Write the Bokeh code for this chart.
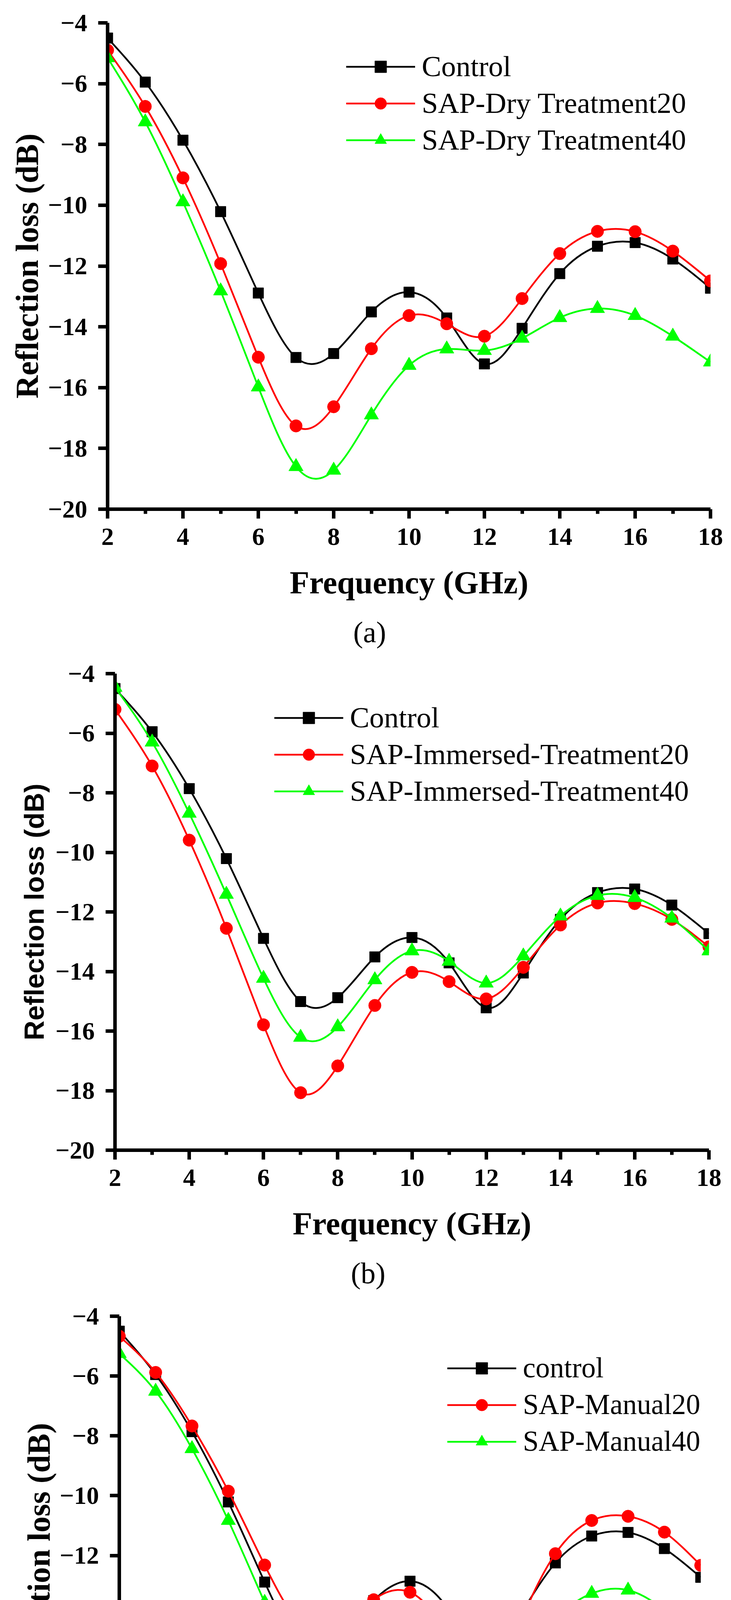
import numpy as np
from bokeh.plotting import figure
from bokeh.models import ColumnDataSource, Range1d, FixedTicker, Legend, LegendItem, Title
from bokeh.embed import file_html
from bokeh.resources import INLINE

# frequency (GHz) and reflection loss (dB)
freq = [2, 3, 4, 5, 6, 7, 8, 9, 10, 11, 12, 13, 14, 15, 16, 17, 18]
control = [-4.5, -5.95, -7.86, -10.21, -12.89, -15.01, -14.88, -13.51, -12.86,
           -13.71, -15.22, -14.05, -12.25, -11.35, -11.23, -11.77, -12.73]
dry20 = [-4.9, -6.75, -9.1, -11.92, -15.0, -17.26, -16.63, -14.72, -13.63,
         -13.9, -14.31, -13.07, -11.59, -10.86, -10.87, -11.51, -12.49]
dry40 = [-5.15, -7.26, -9.89, -12.82, -15.98, -18.6, -18.72, -16.9, -15.27,
         -14.73, -14.78, -14.38, -13.7, -13.4, -13.63, -14.31, -15.16]
imm20 = [-5.2, -7.1, -9.59, -12.55, -15.79, -18.07, -17.17, -15.14, -14.03,
         -14.34, -14.92, -13.86, -12.44, -11.7, -11.72, -12.25, -13.17]
imm40 = [-4.46, -6.3, -8.69, -11.41, -14.23, -16.21, -15.86, -14.28, -13.31,
         -13.66, -14.39, -13.48, -12.14, -11.45, -11.52, -12.21, -13.31]
man20 = [-4.67, -5.88, -7.67, -9.85, -12.32, -14.31, -14.49, -13.48, -13.23,
         -14.66, -16.52, -14.36, -11.94, -10.83, -10.69, -11.22, -12.33]
man40 = [-5.25, -6.51, -8.43, -10.83, -13.57, -15.85, -16.2, -15.08, -14.56,
         -15.71, -17.59, -16.36, -14.24, -13.27, -13.16, -13.83, -14.98]

x_ticks = [2, 4, 6, 8, 10, 12, 14, 16, 18]
x_minor = [3, 5, 7, 9, 11, 13, 15, 17]
y_ticks = [-20, -18, -16, -14, -12, -10, -8, -6, -4]

SERIF = "Liberation Serif"
SANS = "Liberation Sans"
BLACK, RED, GREEN = "#000000", "#FF0000", "#00FF00"


def spline_segments(x, y):
    # natural cubic spline through the points, as bezier segments
    x = np.asarray(x, float)
    y = np.asarray(y, float)
    n = len(x)
    h = np.diff(x)
    A = np.zeros((n, n))
    r = np.zeros(n)
    A[0, 0] = A[-1, -1] = 1
    for i in range(1, n - 1):
        A[i, i - 1] = h[i - 1]
        A[i, i] = 2 * (h[i - 1] + h[i])
        A[i, i + 1] = h[i]
        r[i] = 6 * ((y[i + 1] - y[i]) / h[i] - (y[i] - y[i - 1]) / h[i - 1])
    M = np.linalg.solve(A, r)
    d = np.empty(n)
    d[:-1] = (y[1:] - y[:-1]) / h - h * (2 * M[:-1] + M[1:]) / 6
    d[-1] = (y[-1] - y[-2]) / h[-1] + h[-1] * (M[-2] + 2 * M[-1]) / 6
    return dict(x0=x[:-1], y0=y[:-1], x1=x[1:], y1=y[1:],
                cx0=x[:-1] + h / 3, cy0=y[:-1] + d[:-1] * h / 3,
                cx1=x[1:] - h / 3, cy1=y[1:] - d[1:] * h / 3)


def make_panel(series, height, left, right, top, bottom, legend_xy, legend_size,
               caption, caption_offset, ytitle_font, ytitle_size, ytitle_standoff):
    p = figure(width=1872, height=height, x_range=Range1d(2, 18), y_range=Range1d(-20, -4),
               output_backend="svg", toolbar_location=None,
               min_border_left=left, min_border_right=right, min_border_top=top,
               min_border_bottom=bottom, outline_line_color=None,
               background_fill_color="white", border_fill_color="white")
    p.grid.visible = False

    for ax in (p.xaxis[0], p.yaxis[0]):
        ax.axis_line_width = 9
        ax.axis_line_color = "black"
        ax.major_tick_line_width = 9
        ax.minor_tick_line_width = 9
        ax.major_tick_out = 24
        ax.major_tick_in = 0
        ax.minor_tick_in = 0
        ax.major_label_text_font = SERIF
        ax.major_label_text_font_size = "64px"
        ax.major_label_text_font_style = "bold"
        ax.major_label_text_color = "black"
        ax.axis_label_text_font_style = "bold"
        ax.axis_label_text_color = "black"

    xa = p.xaxis[0]
    xa.ticker = FixedTicker(ticks=x_ticks, minor_ticks=x_minor)
    xa.minor_tick_out = 12
    xa.major_label_standoff = 25
    xa.axis_label = "Frequency (GHz)"
    xa.axis_label_text_font = SERIF
    xa.axis_label_text_font_size = "82px"
    xa.axis_label_standoff = 48

    ya = p.yaxis[0]
    ya.ticker = FixedTicker(ticks=y_ticks, minor_ticks=[])
    ya.minor_tick_out = 0
    ya.major_label_standoff = 28
    ya.major_label_overrides = {t: "\u2212" + str(abs(t)) for t in y_ticks}
    ya.axis_label = "Reflection loss (dB)"
    ya.axis_label_text_font = ytitle_font
    ya.axis_label_text_font_size = ytitle_size
    ya.axis_label_standoff = ytitle_standoff

    items = []
    for name, values, color, marker, size in series:
        seg = ColumnDataSource(spline_segments(freq, values))
        line_r = p.bezier(x0="x0", y0="y0", x1="x1", y1="y1", cx0="cx0", cy0="cy0",
                          cx1="cx1", cy1="cy1", source=seg, line_color=color, line_width=4.5)
        dot_r = p.scatter(freq, values, marker=marker, size=size, fill_color=color,
                          line_color=color, line_width=1)
        items.append(LegendItem(label=name, renderers=[line_r, dot_r]))

    legend = Legend(items=items, location=legend_xy, border_line_color=None,
                    background_fill_alpha=0, padding=0, margin=0, spacing=8,
                    glyph_width=177, glyph_height=75, label_height=86, label_standoff=17,
                    label_text_font=SERIF, label_text_font_size=legend_size,
                    label_text_color="black")
    p.add_layout(legend)

    # small gap under the axis title, then the panel caption
    p.add_layout(Title(text=" ", text_font_size="2px", standoff=30), "below")
    p.add_layout(Title(text=caption, align="left", offset=caption_offset, standoff=0,
                       text_font=SERIF, text_font_size="76px", text_font_style="normal",
                       text_color="black"), "below")
    return p


pa = make_panel([("Control", control, BLACK, "square", 27),
                 ("SAP-Dry Treatment20", dry20, RED, "circle", 32),
                 ("SAP-Dry Treatment40", dry40, GREEN, "triangle", 37)],
                height=1684, left=275, right=53, top=58, bottom=381,
                legend_xy=(611, 902), legend_size="75px", caption="(a)", caption_offset=629,
                ytitle_font=SERIF, ytitle_size="82px", ytitle_standoff=5)

pb = make_panel([("Control", control, BLACK, "square", 27),
                 ("SAP-Immersed-Treatment20", imm20, RED, "circle", 32),
                 ("SAP-Immersed-Treatment40", imm40, GREEN, "triangle", 37)],
                height=1645, left=294, right=57, top=40, bottom=385,
                legend_xy=(408, 876), legend_size="75px", caption="(b)", caption_offset=604,
                ytitle_font=SANS, ytitle_size="70px", ytitle_standoff=12)

pc = make_panel([("control", control, BLACK, "square", 27),
                 ("SAP-Manual20", man20, RED, "circle", 32),
                 ("SAP-Manual40", man40, GREEN, "triangle", 37)],
                height=1642, left=305, right=78, top=40, bottom=377,
                legend_xy=(840, 861), legend_size="73px", caption="(c)", caption_offset=599,
                ytitle_font=SERIF, ytitle_size="82px", ytitle_standoff=5)

# separate roots so that the three frames are not forced into alignment
open("out.html", "w").write(file_html([pa, pb, pc], INLINE))
